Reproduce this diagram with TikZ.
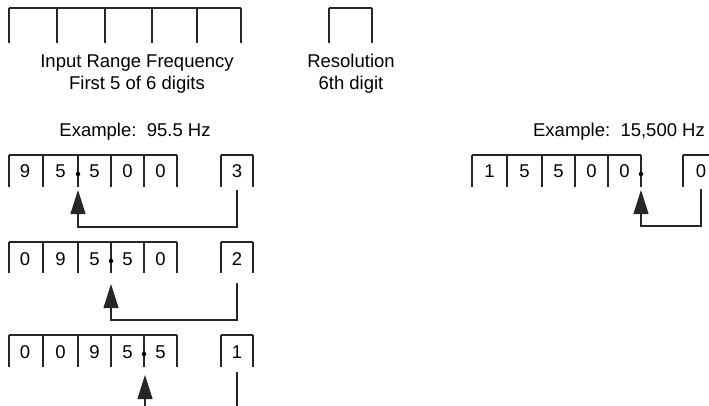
\documentclass[tikz,border=0pt]{standalone}
\usepackage{fontspec}
\setmainfont{Liberation Sans}
\usetikzlibrary{arrows.meta}
\begin{document}
\begin{tikzpicture}[x=1pt,y=-1pt,
  cellline/.style={line width=1.1pt, draw=black!85},
  lbl/.style={font=\fontsize{18.5}{22}\selectfont, inner sep=0pt, anchor=base},
  digit/.style={font=\fontsize{18.5}{22}\selectfont, inner sep=0pt, anchor=base},
  dotmark/.style={circle, fill=black, inner sep=0pt, minimum size=4.5pt},
  conn/.style={line width=1.1pt, draw=black!85, -{Triangle[length=24pt,width=15pt]}},
  wire/.style={line width=1.1pt, draw=black!85},
]
\useasboundingbox (0,0) rectangle (709,406);

% ---------- top legend row ----------
\draw[cellline] (9,8) -- (241,8);
\foreach \x in {9,57,105,152,197,241} \draw[cellline] (\x,8) -- (\x,43);
\draw[cellline] (329,8) -- (372,8);
\foreach \x in {329,372} \draw[cellline] (\x,8) -- (\x,43);
\node[lbl] (irf) at (137,68) {Input Range Frequency};
\node[lbl] (f56) at (137,90) {First 5 of 6 digits};
\node[lbl] (res) at (351,68) {Resolution};
\node[lbl] (sixth) at (351,90) {6th digit};

% ---------- example labels ----------
\node[lbl] (exA) at (135,137) {Example:\ \ 95.5 Hz};
\node[lbl] (exB) at (619,137) {Example:\ \ 15,500 Hz};

% ---------- row 1 : 95.5 Hz, resolution 3 ----------
\draw[cellline] (9,155) -- (177,155);
\foreach \x in {9,43,78,111,144,177} \draw[cellline] (\x,155) -- (\x,187);
\draw[cellline] (221,155) -- (253,155);
\foreach \x in {221,253} \draw[cellline] (\x,155) -- (\x,187);
\node[digit] (a1) at (25,178) {9};
\node[digit] (a2) at (60.5,178) {5};
\node[digit] (a3) at (94.5,178) {5};
\node[digit] (a4) at (127.5,178) {0};
\node[digit] (a5) at (160.5,178) {0};
\node[digit] (a6) at (237,178) {3};
\node[dotmark] (ad) at (78,174) {};
\coordinate (as) at (237,190);
\coordinate (at) at (78,190);
\draw[conn] (as) -- ++(0,37) -| (at);

% ---------- row 2 : resolution 2 ----------
\draw[cellline] (9,242) -- (177,242);
\foreach \x in {9,43,78,111,144,177} \draw[cellline] (\x,242) -- (\x,273);
\draw[cellline] (221,242) -- (253,242);
\foreach \x in {221,253} \draw[cellline] (\x,242) -- (\x,273);
\node[digit] (b1) at (25,265) {0};
\node[digit] (b2) at (60.5,265) {9};
\node[digit] (b3) at (94.5,265) {5};
\node[digit] (b4) at (127.5,265) {5};
\node[digit] (b5) at (160.5,265) {0};
\node[digit] (b6) at (237,265) {2};
\node[dotmark] (bd) at (111,261) {};
\coordinate (bs) at (237,283);
\coordinate (bt) at (111,284);
\draw[conn] (bs) -- ++(0,37) -| (bt);

% ---------- row 3 : resolution 1 ----------
\draw[cellline] (9,335) -- (177,335);
\foreach \x in {9,43,78,111,144,177} \draw[cellline] (\x,335) -- (\x,367);
\draw[cellline] (221,335) -- (253,335);
\foreach \x in {221,253} \draw[cellline] (\x,335) -- (\x,367);
\node[digit] (c1) at (25,358) {0};
\node[digit] (c2) at (60.5,358) {0};
\node[digit] (c3) at (94.5,358) {9};
\node[digit] (c4) at (127.5,358) {5};
\node[digit] (c5) at (160.5,358) {5};
\node[digit] (c6) at (237,358) {1};
\node[dotmark] (cd) at (144,354) {};
\coordinate (cs) at (237,372);
\coordinate (ce) at (237,406);
\coordinate (cb) at (145,406);
\coordinate (ct) at (145,375);
\draw[wire] (cs) -- (ce);
\draw[conn] (cb) -- (ct);

% ---------- right example : 15,500 Hz, resolution 0 ----------
\draw[cellline] (472,155) -- (641,155);
\foreach \x in {472,507,542,575,608,641} \draw[cellline] (\x,155) -- (\x,187);
\draw[cellline] (683,155) -- (709,155);
\draw[cellline] (683,155) -- (683,187);
\node[digit] (d1) at (489.5,178) {1};
\node[digit] (d2) at (524.5,178) {5};
\node[digit] (d3) at (558.5,178) {5};
\node[digit] (d4) at (591.5,178) {0};
\node[digit] (d5) at (624.5,178) {0};
\node[digit] (d6) at (701,178) {0};
\node[dotmark] (dd) at (641,174) {};
\coordinate (ds) at (701,189);
\coordinate (dt) at (641,190);
\draw[conn] (ds) -- ++(0,37) -| (dt);
\end{tikzpicture}
\end{document}
